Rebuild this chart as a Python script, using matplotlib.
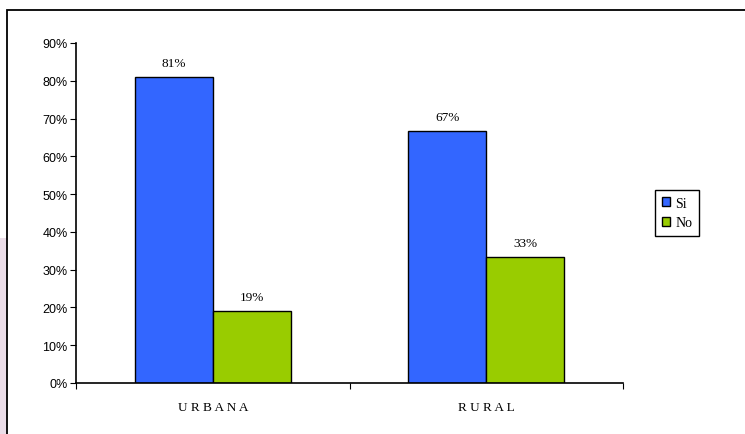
import matplotlib.pyplot as plt
from matplotlib.patches import Rectangle
import numpy as np

categories = ['URBANA', 'RURAL']
series_names = ['Si', 'No']
si_values = [81.0, 66.7]
no_values = [19.0, 33.3]
si_labels = ['81%', '67%']
no_labels = ['19%', '33%']
yticks = [0, 10, 20, 30, 40, 50, 60, 70, 80, 90]

fig = plt.figure(figsize=(7.45, 4.35), dpi=100)

# faint strip on the left edge, outside the chart frame
fig.patches.append(Rectangle((0, 0), 7 / 745, 0.45, transform=fig.transFigure,
                             facecolor='#ebdde8', edgecolor='none', zorder=0))
# chart frame
fig.patches.append(Rectangle((7 / 745, -0.05), 1.0, 1 - 11 / 435 + 0.05,
                             transform=fig.transFigure, facecolor='none',
                             edgecolor='black', linewidth=1.3, zorder=1))

ax = fig.add_axes([76 / 745, 1 - 384 / 435, (623 - 76) / 745, 340 / 435])

x = np.arange(len(categories))
w = 0.285
b1 = ax.bar(x - w / 2, si_values, w, color='#3366FF', edgecolor='black', linewidth=1, label='Si')
b2 = ax.bar(x + w / 2, no_values, w, color='#99CC00', edgecolor='black', linewidth=1, label='No')

for bars, labels in ((b1, si_labels), (b2, no_labels)):
    for bar, lab in zip(bars, labels):
        ax.text(bar.get_x() + bar.get_width() / 2, bar.get_height() + 2.2, lab,
                ha='center', va='bottom', fontsize=9.5, family='Liberation Serif')

ax.set_xlim(-0.5, 1.5)
ax.set_ylim(0, 90)
ax.set_yticks(yticks)
ax.set_yticklabels([f'{t}%' for t in yticks], fontsize=9, family='Liberation Sans')
ax.set_xticks([-0.5, 0.5, 1.5])
ax.set_xticklabels([])
ax.set_xticks(x, minor=True)
ax.set_xticklabels(['U R B A N A', 'R U R A L'], minor=True, fontsize=9.5, family='Liberation Serif')
ax.tick_params(axis='x', which='major', length=4, direction='out')
ax.tick_params(axis='x', which='minor', length=0, pad=13)
ax.tick_params(axis='y', length=4, direction='out', pad=2)
for s in ('top', 'right'):
    ax.spines[s].set_visible(False)
for s in ('left', 'bottom'):
    ax.spines[s].set_linewidth(1.2)

fig.legend(handles=[b1, b2], labels=series_names, loc='center', bbox_to_anchor=(677 / 745, 1 - 214 / 435),
           frameon=True, fancybox=False, edgecolor='black', framealpha=1,
           prop={'family': 'Liberation Serif', 'size': 10},
           handlelength=0.6, handleheight=0.6, handletextpad=0.4, borderpad=0.45, labelspacing=0.5)

fig.savefig('out.png', dpi=100)
